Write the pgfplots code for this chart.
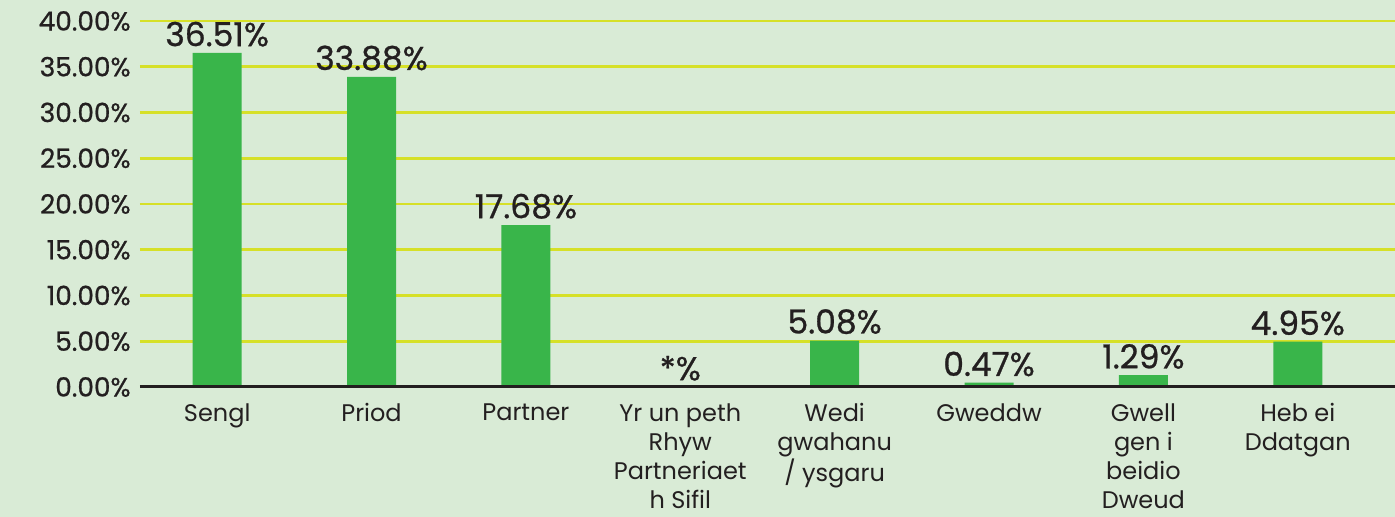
\documentclass[border=0pt]{standalone}
\usepackage{pgfplots}
\pgfplotsset{compat=1.18}
\usepackage{fontspec}
\setmainfont{Poppins}
\newfontfamily\medfont[FakeBold=0.8]{Poppins}
\definecolor{bg}{RGB}{217,235,214}
\definecolor{gridc}{RGB}{214,224,40}
\definecolor{barg}{RGB}{57,181,74}
\definecolor{txt}{RGB}{35,31,32}
\begin{document}
\begin{tikzpicture}
\fill[bg] (-70pt,-65pt) rectangle (627.5pt,193.5pt);
\begin{axis}[
  at={(0,0)}, anchor=south west,
  scale only axis, width=627.5pt, height=183pt,
  xmin=-0.5, xmax=7.63, ymin=0, ymax=40,
  axis line style={draw=none},
  major tick length=0pt,
  ytick={0,5,10,15,20,25,30,35,40},
  yticklabels={0.00\%,5.00\%,10.00\%,15.00\%,20.00\%,25.00\%,30.00\%,35.00\%,40.00\%},
  xtick={0,1,2,3,4,5,6,7},
  xticklabels={Sengl,Priod,Partner,{Yr un peth\\Rhyw\\Partneriaet\\h Sifil},{Wedi\\gwahanu\\/ ysgaru},Gweddw,{Gwell\\gen i\\beidio\\Dweud},{Heb ei\\Ddatgan}},
  /pgf/number format/assume math mode=true,
  ymajorgrids, grid style={gridc, line width=1.3pt},
  yticklabel style={anchor=east, inner sep=0pt, xshift=-4.5pt, font=\medfont\fontsize{13.2}{15}\selectfont, text=txt},
  xticklabel style={anchor=north, align=center, inner sep=0pt, yshift=-8pt, font=\fontsize{12}{14.5}\selectfont, text=txt},
  clip=false,
]
\addplot[ybar, bar width=24.5pt, fill=barg, draw=none,
  point meta=explicit symbolic,
  nodes near coords={\pgfplotspointmeta\%},
  nodes near coords style={anchor=south, inner sep=0pt, yshift=3pt, font=\medfont\fontsize{16.5}{18}\selectfont, text=txt}]
  table[x=x, y=y, meta=lab] {
x y lab
0 36.51 36.51
1 33.88 33.88
2 17.68 17.68
3 0 *
4 5.08 5.08
5 0.47 0.47
6 1.29 1.29
7 4.95 4.95
};
\draw[txt, line width=1.5pt] (axis cs:-0.5,0) -- (axis cs:7.63,0);
\end{axis}
\pgfresetboundingbox
\path (-70pt,-65pt) rectangle (627.5pt,193.5pt);
\end{tikzpicture}
\end{document}
